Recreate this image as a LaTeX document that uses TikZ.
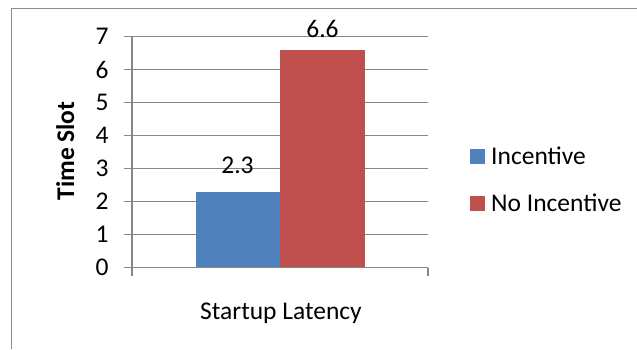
\documentclass[tikz,border=0pt]{standalone}
\usepackage{fontspec}
\setmainfont{Carlito}
\definecolor{serA}{HTML}{4F81BD}
\definecolor{serB}{HTML}{C0504D}
\definecolor{gridc}{HTML}{868686}
\definecolor{framec}{HTML}{8C8C8C}
\tikzset{
  gridline/.style={draw=gridc, line width=1.1pt},
  lbl/.style={font=\fontsize{25.5}{30}\selectfont, inner sep=0pt, text=black},
  boldlbl/.style={font=\fontsize{25.5}{30}\selectfont\bfseries, inner sep=0pt},
  barA/.style={fill=serA, draw=none},
  barB/.style={fill=serB, draw=none},
}
\begin{document}
\begin{tikzpicture}[x=1pt,y=-1pt]
  \useasboundingbox (0,0) rectangle (637,349);
  % chart frame (open at right and bottom)
  \draw[draw=framec, line width=1.5pt] (637,8.5) -- (11.5,8.5) -- (11.5,349);

  % horizontal gridlines and y ticks, values 0..7
  \foreach \v in {1,...,7}{
    \draw[gridline] (124,{267.7-33*\v}) -- (428,{267.7-33*\v});
    \node[lbl] (ytick\v) at (102,{267.7-33*\v}) {\v};
  }
  \node[lbl] (ytick0) at (102,267.7) {0};

  % bars
  \fill[barA] (196,267.7) rectangle (280,{267.7-33*2.3});
  \fill[barB] (280,267.7) rectangle (365,{267.7-33*6.6});

  % axes
  \draw[gridline] (132,36.7) -- (132,276);
  \draw[gridline] (124,267.7) -- (428,267.7);
  \draw[gridline] (428,267.7) -- (428,276);

  % data labels
  \node[lbl, anchor=base] (valA) at (237.5,173) {2.3};
  \node[lbl, anchor=base] (valB) at (322.5,37) {6.6};

  % axis titles
  \node[lbl, anchor=base] (xcat) at (281,319) {Startup Latency};
  \node[boldlbl, anchor=base, rotate=90] (ytitle) at (74,151) {Time Slot};

  % legend
  \fill[serA] (470,149) rectangle (485,163.5);
  \node[lbl, anchor=base west] (legA) at (491,164) {Incentive};
  \fill[serB] (470,196) rectangle (485,210.5);
  \node[lbl, anchor=base west] (legB) at (491,211) {No Incentive};
\end{tikzpicture}
\end{document}
